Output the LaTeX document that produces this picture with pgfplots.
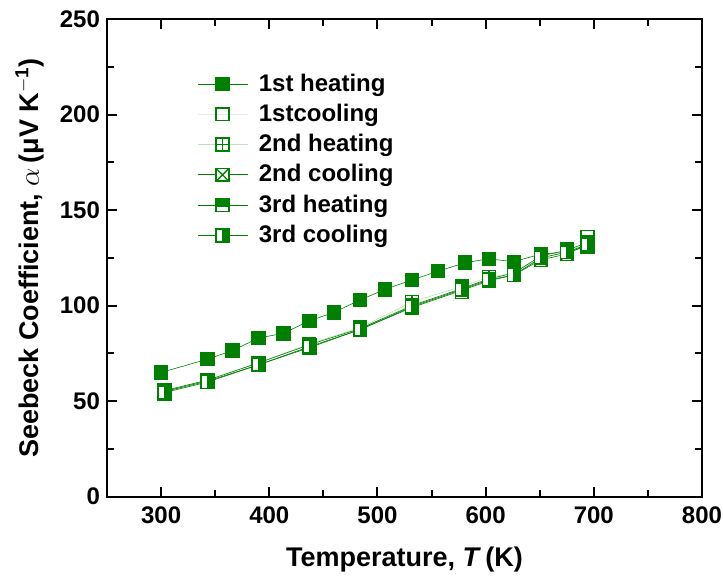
\documentclass[border=0pt]{standalone}
\usepackage{fontspec}
\setmainfont{Liberation Sans}
\usepackage{pgfplots}
\pgfplotsset{compat=1.18}
\definecolor{mygreen}{RGB}{0,128,0}

\pgfdeclareplotmark{sqplus}{%
  \pgfpathrectangle{\pgfpoint{-\pgfplotmarksize}{-\pgfplotmarksize}}{\pgfpoint{2\pgfplotmarksize}{2\pgfplotmarksize}}%
  \pgfusepathqfillstroke
  \pgfpathmoveto{\pgfpoint{-\pgfplotmarksize}{0pt}}\pgfpathlineto{\pgfpoint{\pgfplotmarksize}{0pt}}%
  \pgfpathmoveto{\pgfpoint{0pt}{-\pgfplotmarksize}}\pgfpathlineto{\pgfpoint{0pt}{\pgfplotmarksize}}%
  \pgfusepathqstroke}
\pgfdeclareplotmark{sqx}{%
  \pgfpathrectangle{\pgfpoint{-\pgfplotmarksize}{-\pgfplotmarksize}}{\pgfpoint{2\pgfplotmarksize}{2\pgfplotmarksize}}%
  \pgfusepathqfillstroke
  \pgfpathmoveto{\pgfpoint{-\pgfplotmarksize}{-\pgfplotmarksize}}\pgfpathlineto{\pgfpoint{\pgfplotmarksize}{\pgfplotmarksize}}%
  \pgfpathmoveto{\pgfpoint{-\pgfplotmarksize}{\pgfplotmarksize}}\pgfpathlineto{\pgfpoint{\pgfplotmarksize}{-\pgfplotmarksize}}%
  \pgfusepathqstroke}
\pgfdeclareplotmark{sqtop}{%
  \pgfsetfillcolor{white}%
  \pgfpathrectangle{\pgfpoint{-\pgfplotmarksize}{-\pgfplotmarksize}}{\pgfpoint{2\pgfplotmarksize}{2\pgfplotmarksize}}%
  \pgfusepathqfill
  \pgfsetfillcolor{mygreen}%
  \pgfpathrectangle{\pgfpoint{-\pgfplotmarksize}{-0.3\pgfplotmarksize}}{\pgfpoint{2\pgfplotmarksize}{1.3\pgfplotmarksize}}%
  \pgfusepathqfill
  \pgfpathrectangle{\pgfpoint{-\pgfplotmarksize}{-\pgfplotmarksize}}{\pgfpoint{2\pgfplotmarksize}{2\pgfplotmarksize}}%
  \pgfusepathqstroke}
\pgfdeclareplotmark{sqright}{%
  \pgfsetfillcolor{white}%
  \pgfpathrectangle{\pgfpoint{-\pgfplotmarksize}{-\pgfplotmarksize}}{\pgfpoint{2\pgfplotmarksize}{2\pgfplotmarksize}}%
  \pgfusepathqfill
  \pgfsetfillcolor{mygreen}%
  \pgfpathrectangle{\pgfpoint{-0.1\pgfplotmarksize}{-\pgfplotmarksize}}{\pgfpoint{1.1\pgfplotmarksize}{2\pgfplotmarksize}}%
  \pgfusepathqfill
  \pgfpathrectangle{\pgfpoint{-\pgfplotmarksize}{-\pgfplotmarksize}}{\pgfpoint{2\pgfplotmarksize}{2\pgfplotmarksize}}%
  \pgfusepathqstroke}

\begin{document}
\begin{tikzpicture}
\begin{axis}[
  at={(0,0)}, anchor=south west,
  scale only axis, width=297.5pt, height=238.7pt,
  xmin=250, xmax=800, ymin=0, ymax=250,
  xtick={300,400,...,800}, ytick={0,50,...,250},
  minor x tick num=1, minor y tick num=1,
  tick align=inside, major tick length=5pt, minor tick length=3.5pt,
  every tick/.style={black, line width=1pt},
  axis line style={line width=1pt},
  /pgf/number format/assume math mode=true,
  ticklabel style={font=\fontsize{12}{14}\selectfont\bfseries},
  xticklabel style={yshift=-1.5pt},
  label style={font=\fontsize{13.5}{15}\selectfont\bfseries},
  xlabel={Temperature, \textit{T}\,(K)},
  ylabel={Seebeck Coefficient, $\alpha$\,(μV K$^{\mathbf{-1}}$)},
  xlabel style={at={(axis description cs:0.5,0)}, anchor=center, yshift=-31.5pt},
  ylabel style={at={(axis description cs:0,0.5)}, anchor=center, yshift=38.5pt},
  legend style={draw=none, fill=none, at={(0.151,0.895)}, anchor=north west,
    font=\fontsize{12}{14}\selectfont\bfseries, row sep=0.95pt, inner sep=0pt},
  legend cell align=left,
  /tikz/every odd column/.append style={column sep=3.5pt},
  legend image code/.code={%
    \draw[#1, mark repeat=2, mark phase=2] plot coordinates {(0pt,0pt) (12.5pt,0pt) (25pt,0pt)};},
  mark size=3.2pt,
]
\addplot[mygreen, line width=0.3pt, mark=square*, mark options={solid, line width=0.8pt, fill=mygreen}]
coordinates {(300,65) (343,72) (366,76.5) (390,83) (413,85.5) (437,92) (460,96.5) (484,103) (507,108.5) (532,113.5) (556,118) (581,122.5) (603,124.5) (626,123) (651,127) (675,128) (694,131)};
\addlegendentry{1st heating}
\addplot[mygreen!12, line width=0.3pt, mark=square, mark options={solid, draw=mygreen, line width=0.8pt, fill=white}]
coordinates {(694,136) (675,129.5) (651,124) (626,118) (603,113) (578,107) (532,101) (484,88) (437,78) (390,69) (343,60) (303,54)};
\addlegendentry{1stcooling}
\addplot[mygreen!25, line width=0.3pt, mark=sqplus, mark options={solid, draw=mygreen, line width=0.7pt, fill=white}]
coordinates {(303,55) (343,61) (390,70) (437,80) (484,88.5) (532,102) (578,110) (603,115) (626,117) (651,125) (675,128) (694,133)};
\addlegendentry{2nd heating}
\addplot[mygreen, line width=0.3pt, mark=sqx, mark options={solid, draw=mygreen, line width=0.7pt, fill=white}]
coordinates {(694,132) (675,127) (651,124) (626,116) (603,113) (578,108) (532,99) (484,87.5) (437,78) (390,69) (343,60.5) (303,55)};
\addlegendentry{2nd cooling}
\addplot[mygreen, line width=0.3pt, mark=sqtop, mark options={solid, draw=mygreen, line width=0.8pt}]
coordinates {(303,55.5) (343,61) (390,70) (437,79.5) (484,88) (532,100) (578,109) (603,114) (626,117) (651,126) (675,129) (694,133)};
\addlegendentry{3rd heating}
\addplot[mygreen, line width=0.3pt, mark=sqright, mark options={solid, draw=mygreen, line width=0.8pt}]
coordinates {(694,132) (675,128) (651,125) (626,116) (603,113.5) (578,108.5) (532,99.5) (484,87.5) (437,78.5) (390,69) (343,60) (303,54.5)};
\addlegendentry{3rd cooling}
\end{axis}
\pgfresetboundingbox
\path (-53.5pt,-42.7pt) rectangle (308pt,248.3pt);
\end{tikzpicture}
\end{document}
